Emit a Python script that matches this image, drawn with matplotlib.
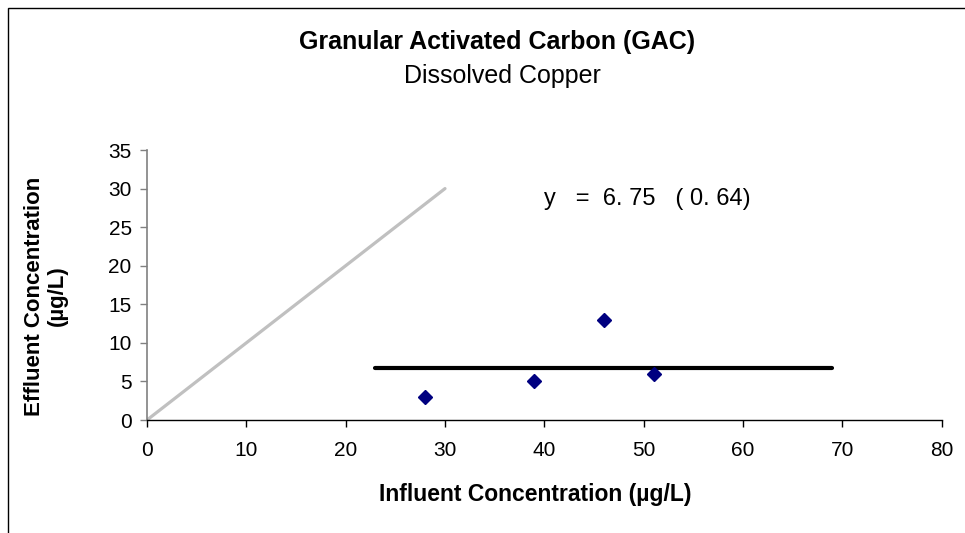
import matplotlib
matplotlib.use("Agg")
import matplotlib.pyplot as plt
from matplotlib.patches import Rectangle

plt.rcParams['font.family'] = ['Liberation Sans', 'DejaVu Sans']

# data
influent = [28, 39, 46, 51]
effluent = [3, 5, 13, 6]
mean_x = [23, 69]
mean_y = 6.75
one_to_one = [0, 30]
x_ticks = [0, 10, 20, 30, 40, 50, 60, 70, 80]
y_ticks = [0, 5, 10, 15, 20, 25, 30, 35]

fig = plt.figure(figsize=(9.65, 5.33), dpi=100)
ax = fig.add_axes([147 / 965, 1 - 420 / 533, (941.7 - 147) / 965, 270 / 533])

ax.plot(one_to_one, one_to_one, color='#c0c0c0', lw=2.3, solid_capstyle='round', zorder=2)
ax.plot(mean_x, [mean_y, mean_y], color='black', lw=3, solid_capstyle='round', zorder=3)
ax.plot(influent, effluent, linestyle='none', marker='D', ms=7.5,
        color='#000080', zorder=4)

ax.set_xlim(0, 80)
ax.set_ylim(0, 35)
ax.set_xticks(x_ticks)
ax.set_yticks(y_ticks)

for s in ['top', 'right']:
    ax.spines[s].set_visible(False)
ax.spines['left'].set_color('#808080')
ax.spines['left'].set_linewidth(1.2)
ax.spines['bottom'].set_color('black')
ax.spines['bottom'].set_linewidth(1.0)
ax.tick_params(axis='x', direction='out', length=5, width=1, color='black',
               labelsize=15, pad=10)
ax.tick_params(axis='y', direction='out', length=5, width=1, color='#808080',
               labelsize=15, pad=6)

ax.text(40, 28.6, "y   =  6. 75   ( 0. 64)", fontsize=17, ha='left', va='center')

fig.text(497 / 965, 1 - 42 / 533, "Granular Activated Carbon (GAC)",
         fontsize=18, fontweight='bold', ha='center', va='center')
fig.text(502 / 965, 1 - 76 / 533, "Dissolved Copper",
         fontsize=18, ha='center', va='center')

fig.text(535 / 965, 1 - 494 / 533, "Influent Concentration (µg/L)",
         fontsize=16.5, fontweight='bold', ha='center', va='center')
fig.text(46 / 965, 1 - 296 / 533, "Effluent Concentration\n(µg/L)",
         fontsize=16, fontweight='bold', ha='center', va='center',
         rotation=90, multialignment='center', linespacing=1.1)

# outer chart frame (cut at right and bottom)
fig.patches.append(Rectangle((8 / 965, -0.1), 1.2, 1 - 8 / 533 + 0.1,
                             transform=fig.transFigure, fill=False,
                             edgecolor='black', lw=1.0))

fig.savefig("out.png", dpi=100)
